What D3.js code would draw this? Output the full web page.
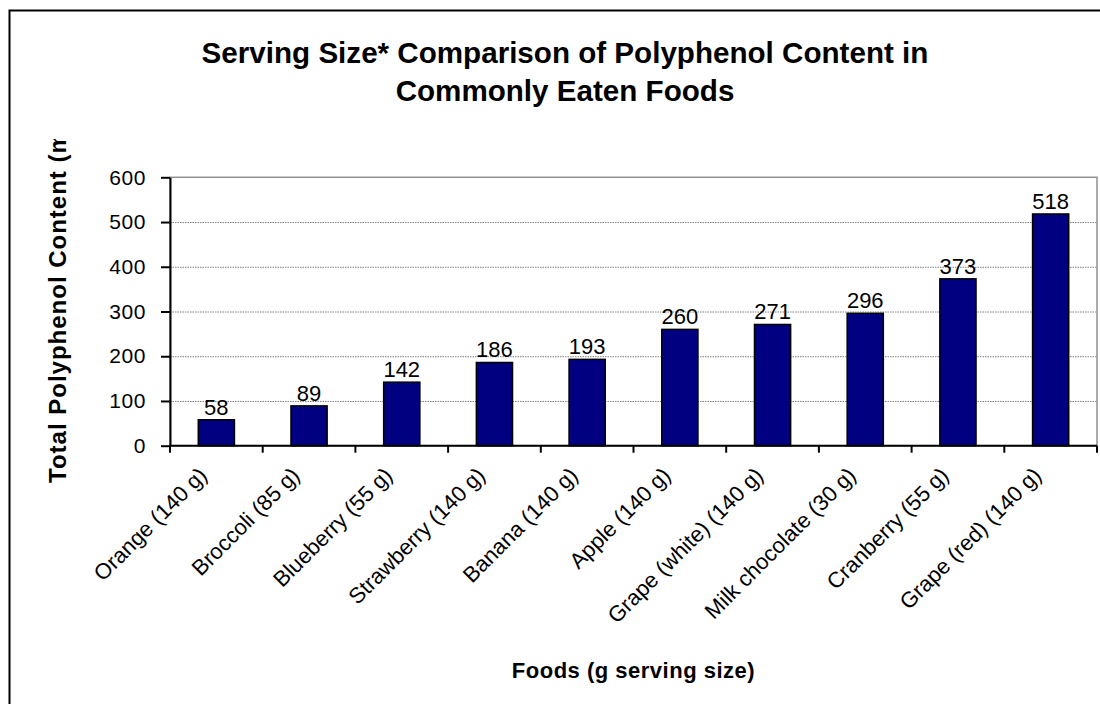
<!DOCTYPE html>
<html>
<head>
<meta charset="utf-8">
<script src="https://cdn.jsdelivr.net/npm/d3@7"></script>
<style>
  body { margin: 0; background: #fff; }
  svg { display: block; font-family: "Liberation Sans", Arial, sans-serif; }
  .grid line { stroke: #808080; stroke-dasharray: 1.5 1; }
  .grid path { display: none; }
</style>
</head>
<body>
<div id="chart-area"></div>
<script>
const foods = ["Orange (140 g)", "Broccoli (85 g)", "Blueberry (55 g)", "Strawberry (140 g)",
  "Banana (140 g)", "Apple (140 g)", "Grape (white) (140 g)", "Milk chocolate (30 g)",
  "Cranberry (55 g)", "Grape (red) (140 g)"];
const polyphenols = [58, 89, 142, 186, 193, 260, 271, 296, 373, 518];
const yTicks = [0, 100, 200, 300, 400, 500, 600];

const width = 1100,
  height = 704;

const plot = { left: 170, right: 1097, top: 177.3, bottom: 445.7 };

const svg = d3.select("#chart-area").append("svg")
  .attr("width", width)
  .attr("height", height);

// outer chart border, runs off the canvas on the right and bottom
svg.append("rect")
  .attr("x", 9.5).attr("y", 10.5)
  .attr("width", 1200).attr("height", 800)
  .attr("fill", "none")
  .attr("stroke", "#000")
  .attr("stroke-width", 2);

const x = d3.scaleBand()
  .domain(foods)
  .range([plot.left, plot.right])
  .padding(0);

const y = d3.scaleLinear()
  .domain([0, 600])
  .range([plot.bottom, plot.top]);

const barW = x.bandwidth() * 0.39;

// plot frame (grey top / right)
svg.append("rect")
  .attr("x", plot.left).attr("y", plot.top)
  .attr("width", plot.right - plot.left).attr("height", plot.bottom - plot.top)
  .attr("fill", "#fff")
  .attr("stroke", "#909090")
  .attr("stroke-width", 1.5);

// gridlines
svg.append("g")
  .attr("class", "grid")
  .attr("transform", `translate(${plot.left},0)`)
  .call(d3.axisLeft(y).tickValues(yTicks.slice(1, -1)).tickSize(-(plot.right - plot.left)).tickFormat(""));

// bars
svg.append("g")
  .selectAll("rect")
  .data(polyphenols)
  .join("rect")
  .attr("x", (d, i) => x(foods[i]) + (x.bandwidth() - barW) / 2)
  .attr("y", d => y(d))
  .attr("width", barW)
  .attr("height", d => y(0) - y(d))
  .attr("fill", "#000080")
  .attr("stroke", "#000")
  .attr("stroke-width", 1.5);

// value labels
svg.append("g")
  .selectAll("text")
  .data(polyphenols)
  .join("text")
  .attr("x", (d, i) => x(foods[i]) + x.bandwidth() / 2)
  .attr("y", d => y(d) - 5)
  .attr("text-anchor", "middle")
  .attr("font-size", 22)
  .attr("fill", "#000")
  .text(d => d);

// y axis
const yAxis = svg.append("g")
  .attr("transform", `translate(${plot.left},0)`)
  .call(d3.axisLeft(y).tickValues(yTicks).tickSize(9).tickPadding(15).tickSizeOuter(0));
yAxis.select(".domain").attr("stroke", "#000").attr("stroke-width", 2);
yAxis.selectAll(".tick line").attr("stroke", "#000").attr("stroke-width", 2);
yAxis.selectAll(".tick text")
  .attr("font-size", 21)
  .attr("letter-spacing", 0.6)
  .attr("font-family", "Liberation Sans, Arial, sans-serif")
  .attr("fill", "#000");

// x axis: ticks on band boundaries
const bounds = foods.map(f => x(f)).concat([plot.right]);
const xg = svg.append("g");
xg.append("line")
  .attr("x1", plot.left).attr("x2", plot.right)
  .attr("y1", plot.bottom).attr("y2", plot.bottom)
  .attr("stroke", "#000").attr("stroke-width", 2);
xg.selectAll("line.tk")
  .data(bounds)
  .join("line")
  .attr("class", "tk")
  .attr("x1", d => d).attr("x2", d => d)
  .attr("y1", plot.bottom).attr("y2", plot.bottom + 7)
  .attr("stroke", "#000").attr("stroke-width", 2);

xg.selectAll("text")
  .data(foods)
  .join("text")
  .attr("text-anchor", "end")
  .attr("font-size", 22)
  .attr("transform", d => `translate(${x(d) + x.bandwidth() / 2 - 8},${plot.bottom + 31}) rotate(-45)`)
  .text(d => d);

// titles
svg.append("text")
  .attr("x", 565).attr("y", 63)
  .attr("text-anchor", "middle")
  .attr("font-size", 29.6).attr("font-weight", "bold")
  .text("Serving Size* Comparison of Polyphenol Content in");
svg.append("text")
  .attr("x", 565).attr("y", 101)
  .attr("text-anchor", "middle")
  .attr("font-size", 29.6).attr("font-weight", "bold")
  .text("Commonly Eaten Foods");

svg.append("text")
  .attr("x", (plot.left + plot.right) / 2).attr("y", 678)
  .attr("text-anchor", "middle")
  .attr("font-size", 22).attr("font-weight", "bold")
  .attr("letter-spacing", 0.5)
  .text("Foods (g serving size)");

// y title is cut off at the top, as in the original
svg.append("clipPath").attr("id", "yclip")
  .append("rect").attr("x", 0).attr("y", 139).attr("width", 120).attr("height", 500);
svg.append("g")
  .attr("clip-path", "url(#yclip)")
  .append("text")
  .attr("transform", "translate(66,483) rotate(-90)")
  .attr("font-size", 24).attr("font-weight", "bold")
  .attr("letter-spacing", 1)
  .text("Total Polyphenol Content (mg)");
</script>
</body>
</html>
